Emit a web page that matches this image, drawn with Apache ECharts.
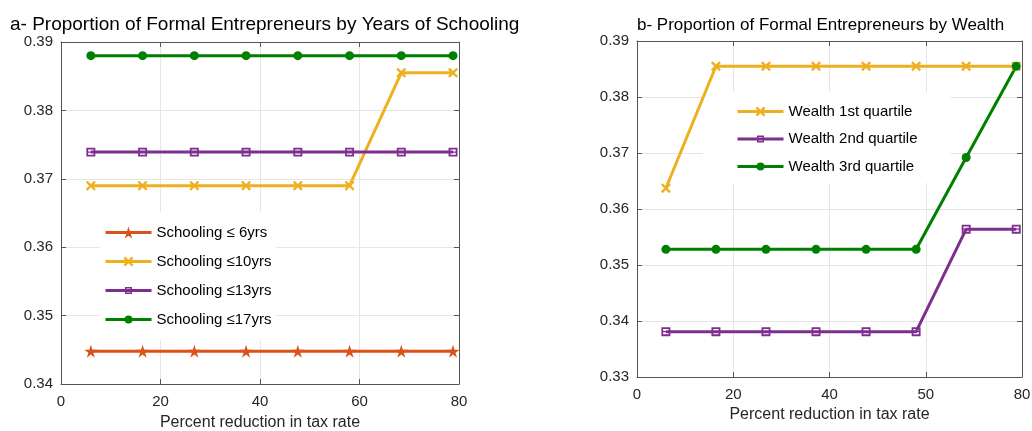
<!DOCTYPE html>
<html>
<head>
<meta charset="utf-8">
<script src="https://cdn.jsdelivr.net/npm/echarts@6/dist/echarts.min.js"></script>
<style>html,body{margin:0;padding:0;background:#fff;}#c{width:1032px;height:431px;}</style>
</head>
<body>
<div id="c"></div>
<script>
// ---- data ----
const taxCuts = [6, 16.4, 26.8, 37.2, 47.6, 58, 68.4, 78.8];
const schooling6  = [0.3448, 0.3448, 0.3448, 0.3448, 0.3448, 0.3448, 0.3448, 0.3448];
const schooling10 = [0.3690, 0.3690, 0.3690, 0.3690, 0.3690, 0.3690, 0.3855, 0.3855];
const schooling13 = [0.3739, 0.3739, 0.3739, 0.3739, 0.3739, 0.3739, 0.3739, 0.3739];
const schooling17 = [0.3880, 0.3880, 0.3880, 0.3880, 0.3880, 0.3880, 0.3880, 0.3880];
const wealthQ1 = [0.3637, 0.3855, 0.3855, 0.3855, 0.3855, 0.3855, 0.3855, 0.3855];
const wealthQ2 = [0.3381, 0.3381, 0.3381, 0.3381, 0.3381, 0.3381, 0.3564, 0.3564];
const wealthQ3 = [0.3528, 0.3528, 0.3528, 0.3528, 0.3528, 0.3528, 0.3692, 0.3855];
const schoolingNames = ['Schooling \u2264 6yrs', 'Schooling \u226410yrs', 'Schooling \u226413yrs', 'Schooling \u226417yrs'];
const wealthNames = ['Wealth 1st quartile', 'Wealth 2nd quartile', 'Wealth 3rd quartile'];
const leftXTicks = ['0', '20', '40', '60', '80'];
const rightXTicks = ['0', '20', '40', '50', '80'];
const titles = ['a- Proportion of Formal Entrepreneurs by Years of Schooling', 'b- Proportion of Formal Entrepreneurs by Wealth'];
const xTitle = 'Percent reduction in tax rate';

const C = { orange: '#D95319', yellow: '#EDB120', purple: '#7E2F8E', green: '#008000' };
const FONT = 'Liberation Sans, Arial, sans-serif';
const AX = '#555555';
const GRIDC = '#e6e6e6';

// marker shapes (degenerate corner points only pad the bounding box so legend icons stay small)
const STAR = 'path://M50 0 L61.23 34.55 L97.55 34.55 L68.17 55.9 L79.39 90.45 L50 69.1 L20.61 90.45 L31.83 55.9 L2.45 34.55 L38.77 34.55 Z';
const CROSS = 'path://M-1 -1 L-1 -1 M11 11 L11 11 M0 1.7 L1.7 0 L5 3.3 L8.3 0 L10 1.7 L6.7 5 L10 8.3 L8.3 10 L5 6.7 L1.7 10 L0 8.3 L3.3 5 Z';
const SQUARE = 'path://M-3.57 -3.57 L-3.57 -3.57 M13.57 13.57 L13.57 13.57 M0 0 L10 0 L10 10 L0 10 Z M2 2 L2 8 L8 8 L8 2 Z M2 4.4 L8 4.4 L8 5.6 L2 5.6 Z';
const DOT = 'path://M-2.5 -2.5 L-2.5 -2.5 M12.5 12.5 L12.5 12.5 M0 5 A5 5 0 1 0 10 5 A5 5 0 1 0 0 5 Z';

const pairs = arr => taxCuts.map((x, i) => [x, arr[i]]);

function xAx(gi, labels, name, nameGap, margin) {
  return {
    type: 'value', gridIndex: gi, min: 0, max: 80, interval: 20, position: 'bottom',
    name: name, nameLocation: 'middle', nameGap: nameGap,
    nameTextStyle: { fontSize: 16, color: '#262626', fontFamily: FONT },
    axisLine: { show: true, onZero: false, lineStyle: { color: AX, width: 1 } },
    axisTick: { show: true, inside: true, length: 5, lineStyle: { color: AX } },
    axisLabel: { margin: margin, fontSize: 15, color: '#262626', fontFamily: FONT,
      formatter: v => labels[Math.round(v / 20)] },
    splitLine: { show: true, lineStyle: { color: GRIDC, width: 1 } }
  };
}
function xAxTop(gi) {
  return {
    type: 'value', gridIndex: gi, min: 0, max: 80, interval: 20, position: 'top',
    axisLine: { show: true, onZero: false, lineStyle: { color: AX, width: 1 } },
    axisTick: { show: true, inside: true, length: 5, lineStyle: { color: AX } },
    axisLabel: { show: false }, splitLine: { show: false }
  };
}
function yAx(gi, min) {
  return {
    type: 'value', gridIndex: gi, min: min, max: 0.39, interval: 0.01, position: 'left',
    axisLine: { show: true, onZero: false, lineStyle: { color: AX, width: 1 } },
    axisTick: { show: true, inside: true, length: 5, lineStyle: { color: AX } },
    axisLabel: { margin: 8, fontSize: 15, color: '#262626', fontFamily: FONT,
      formatter: v => v.toFixed(2) },
    splitLine: { show: true, lineStyle: { color: GRIDC, width: 1 } }
  };
}
function yAxRight(gi, min) {
  return {
    type: 'value', gridIndex: gi, min: min, max: 0.39, interval: 0.01, position: 'right',
    axisLine: { show: true, onZero: false, lineStyle: { color: AX, width: 1 } },
    axisTick: { show: true, inside: true, length: 5, lineStyle: { color: AX } },
    axisLabel: { show: false }, splitLine: { show: false }
  };
}
function line(name, data, color, symbol, size, xi, yi) {
  return {
    type: 'line', name: name, data: pairs(data), xAxisIndex: xi, yAxisIndex: yi,
    symbol: symbol, symbolSize: size, showAllSymbol: true, clip: false,
    lineStyle: { color: color, width: 3 },
    itemStyle: { color: color, borderWidth: 0 },
    emphasis: { disabled: true }, z: 3
  };
}
function legend(names, left, top, padding, gap) {
  return {
    data: names, orient: 'vertical', left: left, top: top, z: 1,
    padding: padding, itemWidth: 46, itemHeight: 15, itemGap: gap,
    backgroundColor: '#ffffff', selectedMode: false,
    lineStyle: { width: 3 },
    textStyle: { fontSize: 15, color: '#000', fontFamily: FONT }
  };
}

const chart = echarts.init(document.getElementById('c'), null, { renderer: 'canvas' });
chart.setOption({
  animation: false,
  backgroundColor: '#ffffff',
  title: [
    { text: titles[0], left: 10, top: 15, padding: 0,
      textStyle: { fontSize: 19, fontWeight: 'normal', color: '#000', fontFamily: FONT } },
    { text: titles[1], left: 637, top: 17, padding: 0,
      textStyle: { fontSize: 17, fontWeight: 'normal', color: '#000', fontFamily: FONT } }
  ],
  grid: [
    { left: 61, top: 42, width: 398, height: 342, containLabel: false, outerBoundsMode: 'none' },
    { left: 637, top: 41, width: 385, height: 336, containLabel: false, outerBoundsMode: 'none' }
  ],
  xAxis: [xAx(0, leftXTicks, xTitle, 31, 10), xAxTop(0), xAx(1, rightXTicks, xTitle, 28, 10), xAxTop(1)],
  yAxis: [yAx(0, 0.34), yAxRight(0, 0.34), yAx(1, 0.33), yAxRight(1, 0.33)],
  legend: [
    legend(schoolingNames, 100, 212, [13, 5, 13, 4], 14),
    legend(wealthNames, 703, 92, [12, 33, 9, 33], 12.5)
  ],
  series: [
    line(schoolingNames[0], schooling6, C.orange, STAR, 13, 0, 0),
    line(schoolingNames[1], schooling10, C.yellow, CROSS, 12, 0, 0),
    line(schoolingNames[2], schooling13, C.purple, SQUARE, 15.4, 0, 0),
    line(schoolingNames[3], schooling17, C.green, DOT, 13.5, 0, 0),
    line(wealthNames[0], wealthQ1, C.yellow, CROSS, 12, 2, 2),
    line(wealthNames[1], wealthQ2, C.purple, SQUARE, 15.4, 2, 2),
    line(wealthNames[2], wealthQ3, C.green, DOT, 13.5, 2, 2)
  ]
});
</script>
</body>
</html>
